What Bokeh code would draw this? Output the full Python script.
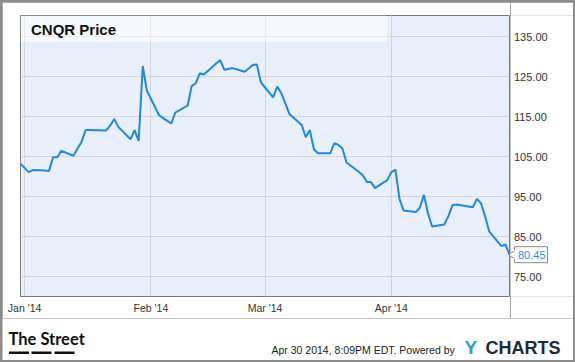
from datetime import datetime
import numpy as np
import pandas as pd
from bokeh.plotting import figure
from bokeh.models import (ColumnDataSource, FixedTicker, DatetimeTickFormatter,
                          Label, BoxAnnotation, Range1d, Grid)
from bokeh.layouts import row, column
from bokeh.core.properties import value
from bokeh.embed import file_html
from bokeh.resources import INLINE

# ---------------- data ----------------
dates = [
    "2013-12-31", "2014-01-02", "2014-01-03", "2014-01-06", "2014-01-07", "2014-01-08",
    "2014-01-09", "2014-01-10", "2014-01-13", "2014-01-14", "2014-01-15", "2014-01-16",
    "2014-01-17", "2014-01-21", "2014-01-22", "2014-01-23", "2014-01-24", "2014-01-27",
    "2014-01-28", "2014-01-29", "2014-01-30", "2014-01-31", "2014-02-03", "2014-02-04",
    "2014-02-05", "2014-02-06", "2014-02-07", "2014-02-10", "2014-02-11", "2014-02-12",
    "2014-02-13", "2014-02-14", "2014-02-18", "2014-02-19", "2014-02-20", "2014-02-21",
    "2014-02-24", "2014-02-25", "2014-02-26", "2014-02-27", "2014-02-28", "2014-03-03",
    "2014-03-04", "2014-03-05", "2014-03-06", "2014-03-07", "2014-03-10", "2014-03-11",
    "2014-03-12", "2014-03-13", "2014-03-14", "2014-03-17", "2014-03-18", "2014-03-19",
    "2014-03-20", "2014-03-21", "2014-03-24", "2014-03-25", "2014-03-26", "2014-03-27",
    "2014-03-28", "2014-03-31", "2014-04-01", "2014-04-02", "2014-04-03", "2014-04-04",
    "2014-04-07", "2014-04-08", "2014-04-09", "2014-04-10", "2014-04-11", "2014-04-14",
    "2014-04-15", "2014-04-16", "2014-04-17", "2014-04-21", "2014-04-22", "2014-04-23",
    "2014-04-24", "2014-04-25", "2014-04-28", "2014-04-29", "2014-04-30",
]
prices = [
    103.2, 101.1, 101.6, 101.5, 101.4, 104.8,
    104.8, 106.4, 105.2, 107.0, 108.7, 111.6,
    111.6, 111.5, 112.7, 114.4, 112.4, 109.3,
    111.6, 108.9, 127.6, 121.5, 115.3, 114.6,
    113.9, 113.3, 116.0, 117.7, 122.6, 123.3,
    125.8, 125.5, 129.1, 126.7, 126.9, 127.1,
    126.2, 127.0, 127.9, 128.0, 123.5, 119.8,
    122.5, 120.8, 118.3, 115.6, 112.9, 109.8,
    111.6, 106.8, 105.8, 105.8, 108.3, 107.9,
    107.0, 103.5, 101.2, 100.3, 98.6, 98.6,
    97.1, 99.1, 101.1, 101.7, 94.4, 91.5,
    91.1, 92.2, 95.4, 90.8, 87.5, 88.0,
    90.1, 92.8, 93.0, 92.3, 94.4, 93.3,
    90.1, 86.3, 82.6, 83.0, 80.45,
]
month_ticks = ["2014-01-01", "2014-02-01", "2014-03-01", "2014-04-01"]
month_label_format = "%b '%y"
price_ticks = [75, 85, 95, 105, 115, 125, 135]
price_tick_labels = ["75.00", "85.00", "95.00", "105.00", "115.00", "125.00", "135.00"]
title_text = "CNQR Price"
footer_text = "Apr 30 2014, 8:09PM EDT.  Powered by"
brand_left = "The Street"
brand_right = ["Y", "CHARTS"]

# ---------------- main figure ----------------
FONT = "Liberation Sans"
x = pd.to_datetime(dates)
src = ColumnDataSource(dict(date=x, price=prices))

x_start = datetime(2013, 12, 31)
x_end = datetime(2014, 4, 30)
yr = Range1d(70, 140.25)

p = figure(width=508, height=316, x_axis_type="datetime",
           x_range=Range1d(x_start, x_end), y_range=yr,
           y_axis_location=None, output_backend="svg", toolbar_location=None,
           title=None, min_border_left=18, min_border_right=1,
           min_border_top=13, min_border_bottom=22,
           background_fill_color="#eaf0fb", border_fill_color="white",
           outline_line_color="#7a7a7a", outline_line_width=1)
p.margin = (2, 0, 0, 2)

tick_ms = [pd.Timestamp(d).value // 10**6 for d in month_ticks]
xt = FixedTicker(ticks=tick_ms)
yt = FixedTicker(ticks=price_ticks)

# own grids
p.center = [c for c in p.center if not isinstance(c, Grid)]
p.add_layout(Grid(dimension=0, ticker=xt, grid_line_color="#d6d6d6"))
p.add_layout(Grid(dimension=1, ticker=yt, grid_line_color="#d6d6d6"))

p.line("date", "price", source=src, line_color="#1e88e5", line_width=2)

xa = p.xaxis[0]
xa.ticker = xt
xa.formatter = DatetimeTickFormatter(
    milliseconds=month_label_format, seconds=month_label_format,
    minsec=month_label_format, minutes=month_label_format,
    hourmin=month_label_format, hours=month_label_format,
    days=month_label_format, months=month_label_format,
    years=month_label_format)
xa.axis_line_color = None
xa.major_tick_line_color = None
xa.minor_tick_line_color = None
xa.major_tick_out = 0
xa.major_tick_in = 0
xa.major_label_text_font = FONT
xa.major_label_text_color = "#333333"
xa.major_label_text_font_size = "10.5px"
xa.major_label_standoff = 5

# light header band
p.add_layout(BoxAnnotation(left=x_start, right=datetime(2014, 3, 31),
                           top=140.25, bottom=133.6,
                           fill_color="white", fill_alpha=0.5, line_color=None))

# title (canvas coords of p, which starts 2px into the page)
p.add_layout(Label(x=28.5, y=26.5, x_units="canvas", y_units="canvas", text=title_text,
                   text_font=FONT, text_font_style="bold", text_font_size="15px",
                   text_color="#111111", text_baseline="middle"))

# ---------------- right strip: price scale + last value ----------------
r = figure(width=63, height=316, x_range=Range1d(510, 573), y_range=yr,
           x_axis_location=None, y_axis_location=None, output_backend="svg",
           toolbar_location=None, title=None, min_border_left=0, min_border_right=0,
           min_border_top=13, min_border_bottom=22, outline_line_color=None,
           background_fill_color="white", border_fill_color="white")
r.margin = (2, 2, 0, 0)
r.center = [c for c in r.center if not isinstance(c, Grid)]
r.text(x=[513.5] * len(price_ticks), y=price_ticks, text=price_tick_labels,
       text_font=value(FONT), text_font_size="11px", text_color="#333333",
       text_align="left", text_baseline="middle")

last_label = f"{prices[-1]:.2f}"
r.rect(x=[530.5], y=[prices[-1]], width=33, height=16, height_units="screen",
       fill_color="white", line_color="#8a8a8a", line_width=1)
r.scatter(x=[512.2], y=[prices[-1]], marker="triangle", angle=np.pi / 2, size=8,
          fill_color="white", line_color="#8a8a8a", line_width=1)
r.rect(x=[514.6], y=[prices[-1]], width=1.6, height=9, height_units="screen",
       fill_color="white", line_color=None)
r.text(x=[517.5], y=[prices[-1]], text=[last_label], text_font=value(FONT),
       text_font_size="11px", text_color="#2b8ee6", text_align="left",
       text_baseline="middle")

# ---------------- footer ----------------
f = figure(width=571, height=42, x_range=Range1d(2, 573), y_range=Range1d(360, 318),
           x_axis_location=None, y_axis_location=None, output_backend="svg",
           toolbar_location=None, title=None, min_border_left=0, min_border_right=0,
           min_border_top=0, min_border_bottom=0, outline_line_color=None,
           background_fill_color="white", border_fill_color="white")
f.margin = (0, 2, 2, 2)
f.center = [c for c in f.center if not isinstance(c, Grid)]
f.text(x=[8], y=[338.5], text=[brand_left], text_font=value("Lato"),
       text_font_style="bold", text_font_size="16.5px", text_color="#111111",
       text_align="left", text_baseline="middle")
f.quad(left=[8.5, 31, 54], right=[28.5, 51, 74], top=[351, 351, 351],
       bottom=[353.5, 353.5, 353.5], fill_color="#111111", line_color=None)
f.text(x=[271], y=[349.3], text=[footer_text], text_font=value(FONT),
       text_font_size="10.5px", text_color="#222222", text_align="left",
       text_baseline="middle")
f.text(x=[464], y=[347], text=[brand_right[0]], text_font=value(FONT),
       text_font_style="bold", text_font_size="19px", text_color="#2b9be8",
       text_align="left", text_baseline="middle")
f.text(x=[485], y=[347], text=[brand_right[1]], text_font=value(FONT),
       text_font_style="bold", text_font_size="18px", text_color="#1c2a3b",
       text_align="left", text_baseline="middle")

frame_style = {"background-color": "#8c8c8c"}
root = column(row(p, r, styles=frame_style), f, styles=frame_style)

open("out.html", "w").write(file_html(root, INLINE))
